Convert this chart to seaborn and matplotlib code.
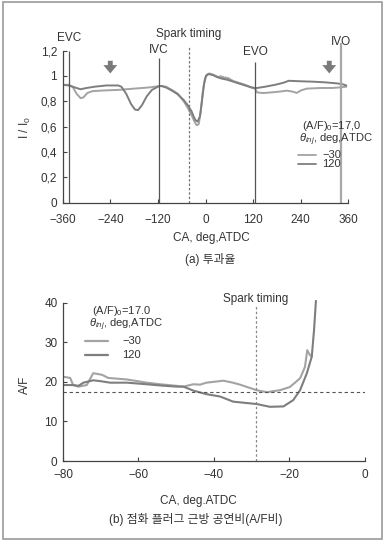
import numpy as np
import pandas as pd
import seaborn as sns
import matplotlib.pyplot as plt
from matplotlib.patches import Rectangle
from matplotlib.lines import Line2D

W, H = 389, 548

# (a) transmissivity I/I0 vs crank angle
ca_a_30 = [-360, -345, -335, -325, -315, -308, -298, -285, -260, -220, -180, -140, -117,
           -110, -100, -85, -70, -55, -45, -35, -28, -22, -17, -12, -7, -2, 3, 10, 20, 30,
           35, 38, 41, 44, 47, 50, 53, 56, 70, 85, 100, 115, 125,
           130, 145, 165, 185, 205, 220, 230, 240, 255, 290, 320, 340, 355]
ii_a_30 = [0.93, 0.93, 0.915, 0.86, 0.825, 0.83, 0.865, 0.88, 0.885, 0.89, 0.90, 0.91, 0.92,
           0.92, 0.915, 0.89, 0.86, 0.80, 0.75, 0.69, 0.64, 0.61, 0.62, 0.72, 0.87, 0.97, 1.01, 1.02, 1.01, 0.995,
           0.99, 1.0, 0.985, 0.995, 0.98, 0.99, 0.975, 0.985, 0.96, 0.945, 0.93, 0.91, 0.90,
           0.87, 0.865, 0.87, 0.876, 0.884, 0.876, 0.866, 0.885, 0.90, 0.905, 0.905, 0.91, 0.915]
ca_a_120 = [-360, -345, -330, -315, -300, -280, -250, -220, -212, -200, -188, -178, -170, -160,
            -148, -135, -117, -110, -100, -85, -70, -55, -45, -35, -30, -25, -20, -14, -9, -4,
            1, 8, 20, 30, 40, 55, 70, 85, 100, 115, 125,
            130, 150, 175, 195, 210, 240, 270, 300, 330, 345, 355]
ii_a_120 = [0.93, 0.925, 0.91, 0.895, 0.905, 0.915, 0.925, 0.925, 0.915, 0.86, 0.78, 0.735, 0.73, 0.77,
            0.84, 0.89, 0.92, 0.92, 0.91, 0.885, 0.855, 0.81, 0.77, 0.72, 0.68, 0.65, 0.64, 0.68, 0.80, 0.93,
            1.0, 1.015, 1.005, 0.99, 0.98, 0.97, 0.955, 0.94, 0.925, 0.91, 0.905,
            0.905, 0.915, 0.93, 0.945, 0.962, 0.958, 0.955, 0.95, 0.942, 0.935, 0.925]

events = ['EVC', 'IVC', 'EVO', 'IVO']
event_ca = [-344, -117, 125, 341]
spark_a = -42
arrow_ca = [-240, 312]

# (b) A/F near spark plug
ca_b_30 = [-80, -78.1, -77.3, -75.9, -73.7, -72, -69.7, -68, -63, -57.8, -54.3, -49.9, -48.1,
           -45.5, -43.7, -42, -37.5, -35, -33.1, -28.7, -26, -22.5, -19.9, -17.2, -15.9,
           -15.3, -14.6, -14.1]
af_b_30 = [21.3, 21.0, 19.2, 18.8, 19.2, 22.2, 21.8, 21.0, 20.6, 19.8, 19.4, 19.0, 18.8,
           19.4, 19.3, 19.8, 20.3, 19.8, 19.3, 17.9, 17.4, 17.9, 18.7, 20.9, 23.8,
           28.0, 26.8, 26.4]
ca_b_120 = [-80, -77.3, -75.9, -74.6, -72, -70.2, -67.5, -63, -57.8, -54.3, -49.9, -48.1,
            -45.5, -42, -38.4, -34.9, -28.7, -25.2, -21.6, -19, -17.2, -15.4, -14.1, -13.5, -13]
af_b_120 = [19.2, 19.2, 19.0, 19.8, 20.4, 20.2, 19.8, 19.8, 19.4, 19.1, 18.8, 18.8,
            17.8, 16.9, 16.3, 15.0, 14.4, 13.7, 13.8, 15.4, 17.9, 22.2, 26.4, 33.1, 40.5]
af_ref = 17.4
spark_b = -29

series = ['−30', '120']
palette = {'−30': '#a3a3a3', '120': '#7e7e7e'}

df_a = pd.concat([
    pd.DataFrame({'CA': ca_a_30, 'val': ii_a_30, 'inj': '−30'}),
    pd.DataFrame({'CA': ca_a_120, 'val': ii_a_120, 'inj': '120'}),
])
df_b = pd.concat([
    pd.DataFrame({'CA': ca_b_30, 'val': af_b_30, 'inj': '−30'}),
    pd.DataFrame({'CA': ca_b_120, 'val': af_b_120, 'inj': '120'}),
])

sns.set_style('ticks')
plt.rcParams['font.family'] = ['Liberation Sans', 'Noto Sans CJK KR', 'DejaVu Sans']
plt.rcParams['mathtext.fontset'] = 'custom'
plt.rcParams['mathtext.rm'] = 'Liberation Sans'
plt.rcParams['mathtext.it'] = 'Liberation Sans:italic'
txt = '#333333'
fs = 8.5


def fx(px):
    return px / W


def fy(py):
    return 1 - py / H


fig = plt.figure(figsize=(W / 100, H / 100), dpi=100)
fig.patches.append(Rectangle((fx(3), fy(539)), fx(382) - fx(3), fy(2) - fy(539),
                             transform=fig.transFigure, fill=False, ec='#9a9a9a', lw=1.2))

# ---------- panel (a)
ax1 = fig.add_axes([fx(62.7), fy(202.5), fx(348.3) - fx(62.7), (202.5 - 37) / H])
sns.lineplot(data=df_a, x='CA', y='val', hue='inj', palette=palette, estimator=None,
             sort=False, lw=1.4, legend=False, ax=ax1)
ax1.set_xlim(-360, 360)
ax1.set_ylim(0, 1.308)
tops = [1.2, 1.14, 1.11, 1.26]
cols = ['#555555', '#555555', '#555555', '#a8a8a8']
lws = [0.9, 0.9, 0.9, 1.6]
ty = [1.30, 1.205, 1.19, 1.27]
for name, x, t, c, w, yy in zip(events, event_ca, tops, cols, lws, ty):
    ax1.vlines(x, 0, t, color=c, lw=w)
    ax1.text(x, yy, name, ha='center', va='center', fontsize=fs, color=txt)
ax1.vlines(spark_a, 0, 1.24, color='#777777', lw=0.9, linestyles=(0, (2, 1.5)))
ax1.text(spark_a, 1.33, 'Spark timing', ha='center', va='center', fontsize=fs, color=txt)
for x in arrow_ca:
    ax1.annotate('', xy=(x, 1.02), xytext=(x, 1.12),
                 arrowprops=dict(width=3.5, headwidth=10, headlength=6, color='#7a7a7a', lw=0))

ax1.set_xticks([-360, -240, -120, 0, 120, 240, 360])
ax1.set_xticklabels(['−360', '−240', '−120', '0', '120', '240', '360'])
ax1.set_yticks([0, 0.2, 0.4, 0.6, 0.8, 1.0, 1.2])
ax1.set_yticklabels(['0', '0,2', '0,4', '0,6', '0,8', '1', '1,2'])
ax1.spines['left'].set_bounds(0, 1.2)
ax1.set_xlabel('')
ax1.set_ylabel('')

# ---------- panel (b)
ax2 = fig.add_axes([fx(63), fy(461), fx(365) - fx(63), (461 - 300) / H])
sns.lineplot(data=df_b, x='CA', y='val', hue='inj', palette=palette, estimator=None,
             sort=False, lw=1.5, legend=False, ax=ax2)
ax2.set_xlim(-80, 0)
ax2.set_ylim(0, 40.7)
ax2.axhline(af_ref, color='#555555', lw=0.8, ls=(0, (3, 2.5)))
ax2.vlines(spark_b, 0, 39.4, color='#888888', lw=0.9, linestyles=(0, (2, 1.8)))
ax2.text(spark_b, 41.0, 'Spark timing', ha='center', va='center', fontsize=fs, color=txt)
ax2.set_xticks([-80, -60, -40, -20, 0])
ax2.set_xticklabels(['−80', '−60', '−40', '−20', '0'])
ax2.set_yticks([0, 10, 20, 30, 40])
ax2.spines['left'].set_bounds(0, 40)
ax2.set_xlabel('')
ax2.set_ylabel('')

for ax, xpad in ((ax1, 8), (ax2, 5.5)):
    sns.despine(ax=ax)
    for s in ('left', 'bottom'):
        ax.spines[s].set_color('#444444')
        ax.spines[s].set_linewidth(0.9)
    ax.tick_params(direction='in', length=3, width=0.8, labelsize=fs,
                   colors='#444444', labelcolor=txt)
    ax.tick_params(axis='x', pad=xpad)
    ax.tick_params(axis='y', pad=4)

# axis labels and captions
fig.text(fx(25), fy(128), 'I / I$_0$', rotation=90, ha='center', va='center', fontsize=fs, color=txt)
fig.text(fx(211), fy(238), 'CA, deg,ATDC', ha='center', va='center', fontsize=fs, color=txt)
fig.text(fx(210), fy(260), '(a) 투과율', ha='center', va='center', fontsize=fs, color=txt)
fig.text(fx(25), fy(385), 'A/F', rotation=90, ha='center', va='center', fontsize=fs, color=txt)
fig.text(fx(198), fy(501), 'CA, deg.ATDC', ha='center', va='center', fontsize=fs, color=txt)
fig.text(fx(196), fy(519), '(b) 점화 플러그 근방 공연비(A/F비)', ha='center', va='center',
         fontsize=fs, color=txt)


# legends
def legend_block(x0, ytitle1, ytitle2, yl1, yl2, xl0, xl1, xlab, af_txt, lw):
    fig.text(fx(x0), fy(ytitle1), af_txt, ha='left', va='center', fontsize=8, color=txt)
    fig.text(fx(x0 - 3), fy(ytitle2), r'$\theta_{inj}$, deg,ATDC', ha='left', va='center',
             fontsize=8, color=txt)
    for name, yy in zip(series, (yl1, yl2)):
        fig.add_artist(Line2D([fx(xl0), fx(xl1)], [fy(yy), fy(yy)], color=palette[name], lw=lw,
                              transform=fig.transFigure))
        fig.text(fx(xlab), fy(yy), name, ha='left', va='center', fontsize=8, color=txt)


legend_block(302, 126, 140, 155, 164, 298, 316, 322, '(A/F)$_0$=17,0', 1.3)
legend_block(92, 311, 325, 341, 355, 85, 108, 122, '(A/F)$_0$=17.0', 1.6)

fig.savefig('out.png', dpi=100)
